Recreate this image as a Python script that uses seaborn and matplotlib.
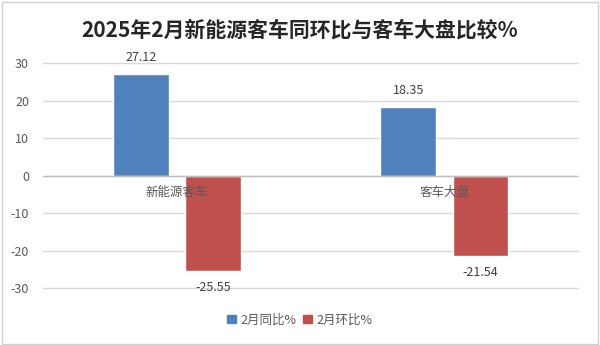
import matplotlib
matplotlib.use("Agg")
import matplotlib.pyplot as plt
import seaborn as sns
import pandas as pd
from matplotlib.patches import Rectangle, Patch

categories = ["新能源客车", "客车大盘"]
series_names = ["2月同比%", "2月环比%"]
yoy = [27.12, 18.35]
mom = [-25.55, -21.54]
yticks = [-30, -20, -10, 0, 10, 20, 30]

sns.set_theme(style="white")
plt.rcParams['font.family'] = ['Noto Sans CJK SC', 'DejaVu Sans']

df = pd.DataFrame({
    "cat": categories * 2,
    "series": [series_names[0]] * 2 + [series_names[1]] * 2,
    "val": yoy + mom,
})

fig = plt.figure(figsize=(6, 3.45), dpi=100)
fig.patches.append(Rectangle((0.004, 0.004), 0.992, 0.99, transform=fig.transFigure,
                             fill=False, edgecolor="#D0D0D0", linewidth=1))
ax = fig.add_axes([0.0717, 0.165, 0.892, 0.652])

palette = {series_names[0]: "#4F81BD", series_names[1]: "#C0504D"}
sns.barplot(data=df, x="cat", y="val", hue="series", palette=palette, ax=ax,
            width=0.54, gap=0.23, saturation=1, legend=False, zorder=3)

ax.set_ylim(-30, 30)
ax.set_yticks(yticks)
ax.set_yticklabels([str(t) for t in yticks], color="#595959", fontsize=9)
ax.tick_params(axis="y", length=0, pad=10)
ax.tick_params(axis="x", length=0)
ax.set_xticklabels([])
ax.set_xlabel("")
ax.set_ylabel("")
for s in ax.spines.values():
    s.set_visible(False)
for t in yticks:
    ax.axhline(t, color="#D9D9D9", linewidth=1, zorder=0, clip_on=False)
ax.axhline(0, color="#BFBFBF", linewidth=1, zorder=4)

# category labels below zero line
for i, c in enumerate(categories):
    ax.text(i, -4.6, c, ha="center", va="center", fontsize=9, color="#595959", zorder=5)

# value labels
for cont in ax.containers:
    for bar in cont:
        h = bar.get_height()
        x = bar.get_x() + bar.get_width() / 2
        if h >= 0:
            ax.text(x, h + 2.6, f"{h:.2f}", ha="center", va="bottom", fontsize=9, color="#404040")
        else:
            ax.text(x, h - 2.6, f"{h:.2f}", ha="center", va="top", fontsize=9, color="#404040")

fig.text(0.5, 0.913, "2025年2月新能源客车同环比与客车大盘比较%", ha="center", va="center",
         fontsize=15, fontweight="bold", color="#262626")

handles = [Patch(color=palette[s]) for s in series_names]
fig.legend(handles, series_names, loc="center", bbox_to_anchor=(0.5, 0.073), ncol=2,
           frameon=False, fontsize=9, handlelength=0.7, handleheight=0.7,
           handletextpad=0.4, columnspacing=0.5, labelcolor="#595959")

fig.savefig("out.png", dpi=100)
